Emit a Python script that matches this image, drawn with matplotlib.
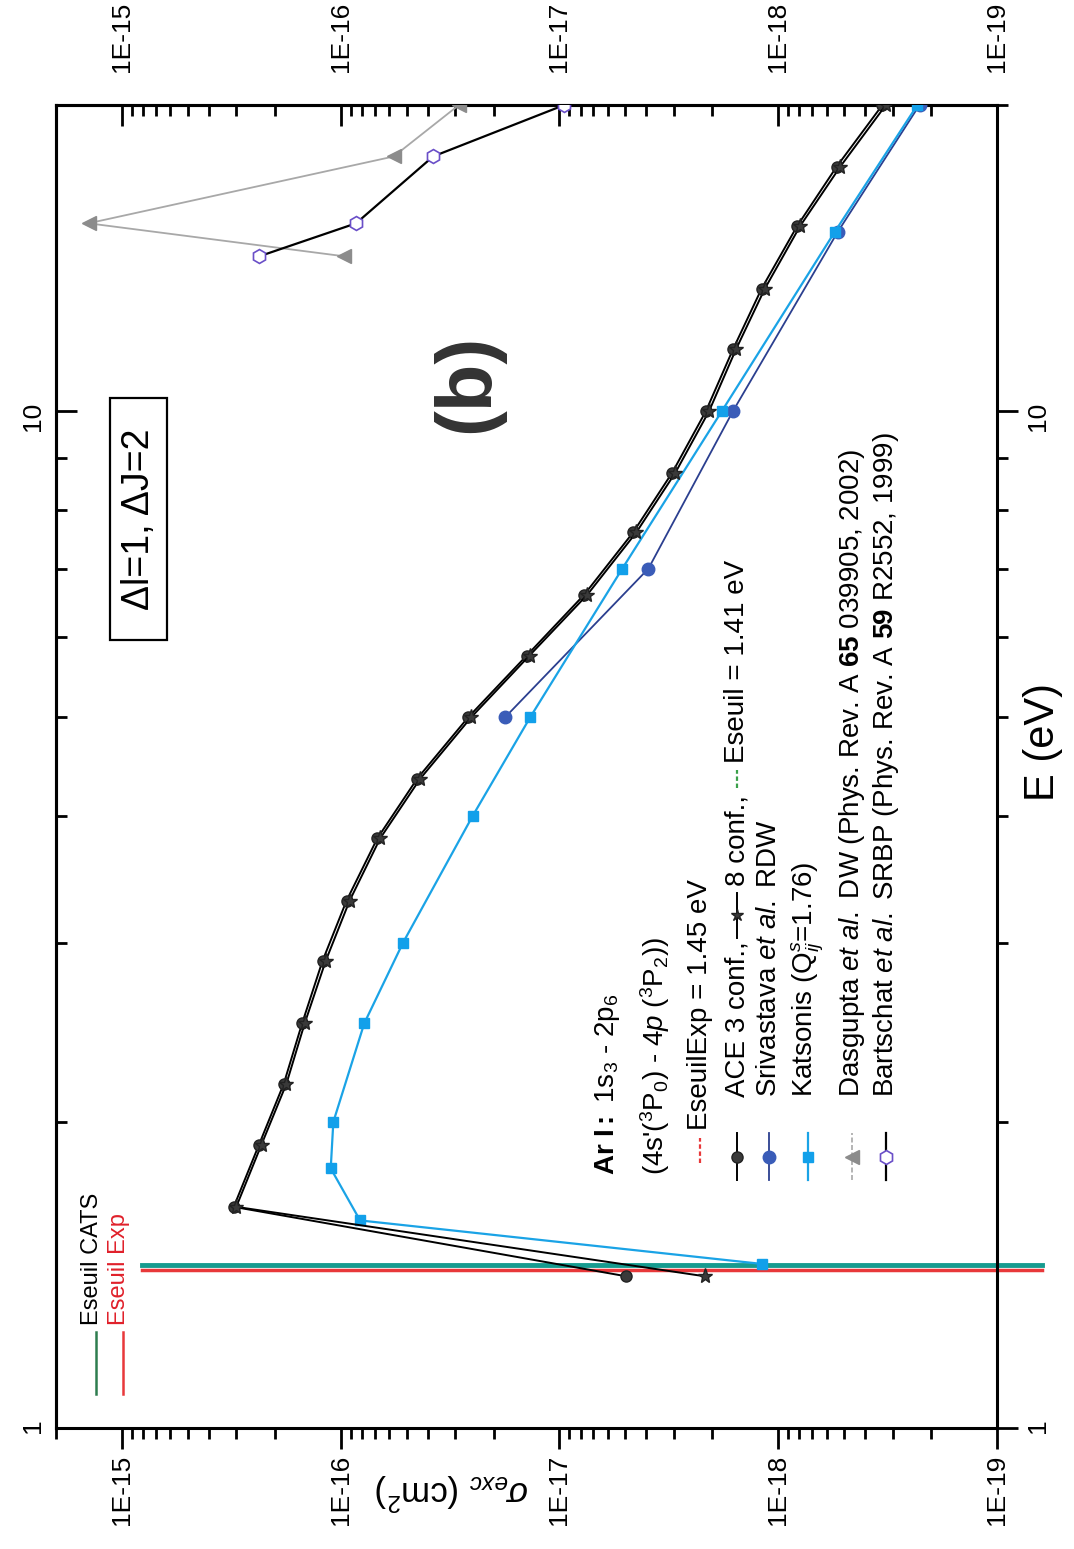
import numpy as np
import matplotlib
matplotlib.use("Agg")
import matplotlib.pyplot as plt
from matplotlib.lines import Line2D
from matplotlib.patches import Rectangle
from matplotlib.ticker import FixedLocator, FixedFormatter, LogLocator, NullFormatter

plt.rcParams['font.family'] = ['Liberation Sans', 'DejaVu Sans']
plt.rcParams['mathtext.fontset'] = 'custom'
plt.rcParams['mathtext.rm'] = 'Liberation Sans'
plt.rcParams['mathtext.it'] = 'Liberation Sans:italic'
plt.rcParams['mathtext.bf'] = 'Liberation Sans:bold'

W, H = 1074, 1549

# 1) data : energie E (eV) et section efficace sigma (cm2)
ace3_E = [1.41, 1.65, 1.9, 2.18, 2.5, 2.88, 3.3, 3.8, 4.35, 5.0, 5.75, 6.6, 7.6, 8.7,
          10.0, 11.5, 13.2, 15.2, 17.4, 20.0]
ace3_sig = [4.96e-18, 3.08e-16, 2.36e-16, 1.82e-16, 1.50e-16, 1.21e-16, 9.4e-17, 6.8e-17,
            4.47e-17, 2.61e-17, 1.41e-17, 7.7e-18, 4.6e-18, 3.05e-18, 2.14e-18, 1.61e-18,
            1.19e-18, 8.2e-19, 5.4e-19, 3.34e-19]
ace8_E = [1.41, 1.65, 1.9, 2.18, 2.5, 2.88, 3.3, 3.8, 4.35, 5.0, 5.75, 6.6, 7.6, 8.7,
          10.0, 11.5, 13.2, 15.2, 17.4, 20.0]
ace8_sig = [2.17e-18, 3.0e-16, 2.3e-16, 1.77e-16, 1.46e-16, 1.17e-16, 9.1e-17, 6.6e-17,
            4.33e-17, 2.53e-17, 1.37e-17, 7.45e-18, 4.45e-18, 2.95e-18, 2.07e-18, 1.56e-18,
            1.15e-18, 7.95e-19, 5.2e-19, 3.22e-19]
sriv_E = [5.0, 7.0, 10.0, 15.0, 20.0]
sriv_sig = [1.77e-17, 3.92e-18, 1.61e-18, 5.35e-19, 2.26e-19]
kats_E = [1.45, 1.6, 1.8, 2.0, 2.5, 3.0, 4.0, 5.0, 7.0, 10.0, 15.0, 20.0]
kats_sig = [1.19e-18, 8.15e-17, 1.11e-16, 1.08e-16, 7.8e-17, 5.19e-17, 2.49e-17, 1.36e-17,
            5.16e-18, 1.81e-18, 5.52e-19, 2.31e-19]
dasg_E = [14.2, 15.3, 17.8, 20.0]
dasg_sig = [9.66e-17, 1.42e-15, 5.72e-17, 2.88e-17]
bart_E = [14.2, 15.3, 17.8, 20.0]
bart_sig = [2.35e-16, 8.5e-17, 3.78e-17, 9.5e-18]

# seuils (traits horizontaux dans l'image tournee)
thr_E = [1.445, 1.43]
thr_colors = ['#169b8f', '#e8383a']
thr_sig_span = [8.1e-16, 6.2e-20]

sig_ticks = [1e-15, 1e-16, 1e-17, 1e-18, 1e-19]
sig_labels = ['1E-15', '1E-16', '1E-17', '1E-18', '1E-19']
E_ticks = [1, 10]
E_labels = ['1', '10']


def fx(px):
    return px / W


def fy(py):
    return 1 - py / H


# 2) figure (page tournee de 90 degres : sigma en horizontal, E en vertical)
fig = plt.figure(figsize=(W / 100, H / 100), dpi=100)
ax = fig.add_axes([fx(56), fy(1428), (997 - 56) / W, (1428 - 105) / H])
ax.set_xscale('log')
ax.set_yscale('log')
ax.set_xlim(2e-15, 1e-19)
ax.set_ylim(1, 20)

for sp in ax.spines.values():
    sp.set_linewidth(2.2)

# seuils
for e, c, lw in zip(thr_E, thr_colors, [3.5, 2.5]):
    ax.plot(thr_sig_span, [e, e], color=c, lw=lw, clip_on=False, zorder=2)

# courbes
ax.plot(dasg_sig, dasg_E, color='#a8a8a8', lw=1.3, marker='<', ms=10,
        mfc='#8c8c8c', mec='#8c8c8c', zorder=3)
ax.plot(bart_sig, bart_E, color='black', lw=1.6, marker='h', ms=10,
        mfc='white', mec='#6a4fc8', mew=1.2, zorder=4)
ax.plot(sriv_sig, sriv_E, color='#2b3f8f', lw=1.3, marker='o', ms=9,
        mfc='#3a5cb8', mec='#3a5cb8', zorder=4)
ax.plot(kats_sig, kats_E, color='#1aa3e6', lw=1.6, marker='s', ms=7.5,
        mfc='#12a0ea', mec='#12a0ea', zorder=5)
ax.plot(ace3_sig, ace3_E, color='black', lw=1.4, marker='o', ms=8,
        mfc='#3a3a3a', mec='#222222', zorder=6)
ax.plot(ace8_sig, ace8_E, color='black', lw=1.4, marker='*', ms=11,
        mfc='#3a3a3a', mec='#222222', zorder=6)

# axes : bas (sortant) + droite (sortant)
ax.xaxis.set_major_locator(FixedLocator(sig_ticks))
ax.xaxis.set_major_formatter(FixedFormatter(sig_labels))
ax.xaxis.set_minor_locator(LogLocator(base=10, subs=np.arange(2, 10)))
ax.xaxis.set_minor_formatter(NullFormatter())
ax.yaxis.tick_right()
ax.yaxis.set_major_locator(FixedLocator(E_ticks))
ax.yaxis.set_major_formatter(FixedFormatter(E_labels))
ax.yaxis.set_minor_locator(LogLocator(base=10, subs=np.arange(2, 10)))
ax.yaxis.set_minor_formatter(NullFormatter())
ax.tick_params(axis='both', which='major', direction='out', length=15, width=2,
               labelsize=19, labelrotation=90)
ax.tick_params(axis='both', which='minor', direction='out', length=8, width=2)
ax.tick_params(axis='x', which='major', pad=4)
ax.tick_params(axis='y', which='major', pad=6)

# axes : haut (rentrant) + gauche (rentrant)
secx = ax.secondary_xaxis('top')
secx.set_xticks(sig_ticks, sig_labels)
secx.xaxis.set_minor_locator(LogLocator(base=10, subs=np.arange(2, 10)))
secx.xaxis.set_minor_formatter(NullFormatter())
secx.tick_params(which='major', direction='in', length=15, width=2, labelsize=19,
                 labelrotation=90, pad=24)
secx.tick_params(which='minor', direction='in', length=8, width=2)
secx.spines['top'].set_linewidth(2.2)

secy = ax.secondary_yaxis('left')
secy.set_yticks(E_ticks, E_labels)
secy.yaxis.set_minor_locator(LogLocator(base=10, subs=np.arange(2, 10)))
secy.yaxis.set_minor_formatter(NullFormatter())
secy.tick_params(which='major', direction='in', length=15, width=2, labelsize=19,
                 labelrotation=90, pad=8)
secy.tick_params(which='minor', direction='in', length=8, width=2)
secy.spines['left'].set_linewidth(2.2)

# titres d'axes
fig.text(fx(1043), fy(742), 'E (eV)', rotation=90, fontsize=30, ha='center', va='center')
fig.text(fx(452), fy(1492), r'$\sigma_{exc}$ (cm$^2$)', rotation=180, fontsize=25,
         ha='center', va='center')

# annotations
fig.text(fx(468), fy(383), '(b)', rotation=90, fontsize=56, fontweight='bold',
         color='#333333', ha='center', va='center')
fig.add_artist(Rectangle((fx(110), fy(640)), (167 - 110) / W, (640 - 398) / H,
                         transform=fig.transFigure, fill=False, ec='black', lw=1.6))
fig.text(fx(139), fy(519), '\u0394l=1, \u0394J=2', rotation=90, fontsize=27,
         ha='center', va='center')

# legende haut-gauche
fig.text(fx(92), fy(1325), 'Eseuil CATS', rotation=90, fontsize=17, ha='center', va='bottom')
fig.text(fx(119), fy(1325), 'Eseuil Exp', rotation=90, fontsize=17, color='#e0202a',
         ha='center', va='bottom')
fig.add_artist(Line2D([fx(96), fx(96)], [fy(1332), fy(1394)], color='#2e7d4f', lw=1.8))
fig.add_artist(Line2D([fx(123), fx(123)], [fy(1332), fy(1394)], color='#e8383a', lw=1.8))

# legende interne
fs = 20
fig.text(fx(607), fy(1175), r'$\mathbf{Ar\ I:}$ 1s$_3$ - 2p$_6$', rotation=90, fontsize=fs,
         ha='center', va='bottom')
fig.text(fx(655), fy(1175), r"(4s'($^3$P$_0$) - 4$p$ ($^3$P$_2$))", rotation=90, fontsize=fs,
         ha='center', va='bottom')


def key(x, y0, y1, **kw):
    fig.add_artist(Line2D([fx(x), fx(x)], [fy(y0), fy(y1)], **kw))


def key_marker(x, y, **kw):
    fig.add_artist(Line2D([fx(x)], [fy(y)], ls='none', **kw))


key(700, 1163, 1138, color='#e8383a', lw=1.6, ls=(0, (2, 1.2)))
fig.text(fx(700), fy(1130), 'EseuilExp = 1.45 eV', rotation=90, fontsize=fs,
         ha='center', va='bottom')

key(737, 1180, 1133, color='black', lw=1.4)
key_marker(737, 1157, marker='o', ms=8, mfc='#3a3a3a', mec='#222222')
fig.text(fx(737), fy(1097), 'ACE 3 conf.,', rotation=90, fontsize=fs, ha='center', va='bottom')
key(737, 938, 893, color='black', lw=1.4)
key_marker(737, 915, marker='*', ms=9, mfc='#3a3a3a', mec='#222222')
fig.text(fx(737), fy(886), '8 conf.,', rotation=90, fontsize=fs, ha='center', va='bottom')
key(737, 788, 770, color='#3aa04a', lw=1.6, ls=(0, (2, 1.2)))
fig.text(fx(737), fy(763), 'Eseuil = 1.41 eV', rotation=90, fontsize=fs,
         ha='center', va='bottom')

key(769, 1180, 1133, color='#2b3f8f', lw=1.3)
key_marker(769, 1157, marker='o', ms=9, mfc='#3a5cb8', mec='#3a5cb8')
fig.text(fx(769), fy(1097), r'Srivastava $et\ al.$ RDW', rotation=90, fontsize=fs,
         ha='center', va='bottom')

key(808, 1180, 1133, color='#1aa3e6', lw=1.6)
key_marker(808, 1157, marker='s', ms=7.5, mfc='#12a0ea', mec='#12a0ea')
fig.text(fx(808), fy(1097), r'Katsonis (Q$_{ij}^{s}$=1.76)', rotation=90, fontsize=fs,
         ha='center', va='bottom')

key(852, 1180, 1133, color='#a8a8a8', lw=1.2, ls=(0, (3, 1.5)))
key_marker(852, 1157, marker='<', ms=10, mfc='#8c8c8c', mec='#8c8c8c')
fig.text(fx(852), fy(1097), r'Dasgupta $et\ al.$ DW (Phys. Rev. A $\mathbf{65}$ 039905, 2002)',
         rotation=90, fontsize=fs, ha='center', va='bottom')

key(886, 1180, 1133, color='black', lw=1.6)
key_marker(886, 1157, marker='h', ms=10, mfc='white', mec='#6a4fc8', mew=1.2)
fig.text(fx(886), fy(1097), r'Bartschat $et\ al.$ SRBP (Phys. Rev. A $\mathbf{59}$ R2552, 1999)',
         rotation=90, fontsize=fs, ha='center', va='bottom')

fig.savefig('out.png', dpi=100)
